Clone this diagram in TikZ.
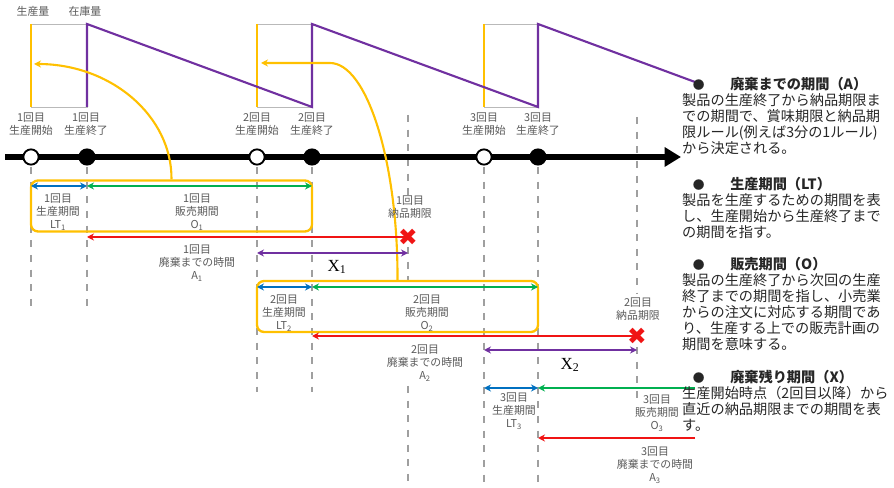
\documentclass[tikz,border=0pt]{standalone}
\usepackage{fontspec}
\setmainfont{Noto Sans CJK JP}
\newfontfamily\symfont{DejaVu Sans}
\newfontfamily\xfont{Liberation Serif}
\usetikzlibrary{arrows.meta}

\definecolor{ygold}{RGB}{255,192,0}
\definecolor{ppl}{RGB}{112,48,160}
\definecolor{bblue}{RGB}{0,112,192}
\definecolor{ggreen}{RGB}{0,176,80}
\definecolor{rred}{RGB}{240,20,20}
\definecolor{lblgray}{RGB}{90,90,90}

\begin{document}
\begin{tikzpicture}[
    x=0.03cm, y=-0.03cm,
    lbl/.style={align=center,text=lblgray,inner sep=0pt,font=\fontsize{9.3}{11}\selectfont},
    note/.style={align=left,anchor=north west,inner sep=0pt,text=black!85,font=\fontsize{12.1}{13.6}\selectfont},
    evstart/.style={circle,draw,line width=1.6pt,fill=white,minimum size=13pt,inner sep=0pt},
    evend/.style={evstart,fill=black},
    timeline/.style={line width=4.5pt,-{Triangle[length=14pt,width=16pt]}},
    guide/.style={draw=gray!75,line width=1.2pt,dash pattern=on 6pt off 6.5pt},
    cell/.style={draw=gray!55,line width=0.8pt},
    prod/.style={draw=ygold,line width=2pt},
    stock/.style={draw=ppl,line width=1.8pt},
    feed/.style={draw=ygold,line width=1.8pt,-{Stealth[length=6pt,width=6pt]}},
    sellbox/.style={draw=ygold,line width=2pt,rounded corners=6pt,minimum width=8.43cm,minimum height=1.53cm,inner sep=0pt},
    dur/.style={line width=1.8pt,{Stealth[length=6pt,width=6pt]}-{Stealth[length=6pt,width=6pt]}},
    loss/.style={draw=rred,line width=1.8pt,-{Stealth[length=6pt,width=6pt]}},
    dead/.style={text=rred,inner sep=0pt,font=\symfont\fontsize{20}{20}\selectfont},
    xlbl/.style={inner sep=0pt,font=\xfont\fontsize{14.5}{14.5}\selectfont}
]
\useasboundingbox (0,0) rectangle (894,488);

\foreach \a/\b in {31/87,257/312,484/538} {
    \draw[cell] (\a,24) rectangle (\b,107);
    \draw[prod] (\a,24) -- (\a,107);
}
\draw[stock] (87,107) -- (87,24) -- (312,107) -- (312,24) -- (538,107) -- (538,24) -- (695,82);
\node[lbl] (qprod) at (33,11) {生産量};
\node[lbl] (qstock) at (85,11) {在庫量};

\coordinate (d1) at (408,157);
\coordinate (d2) at (637,157);
\draw[guide] (d1 |- 0,115) -- (d1 |- 0,195);
\draw[guide] (d1 |- 0,247) -- (d1 |- 0,281);
\draw[guide] (d1 |- 0,386) -- (d1 |- 0,488);
\draw[guide] (d2 |- 0,117) -- (d2 |- 0,294);
\draw[guide] (d2 |- 0,347) -- (d2 |- 0,398);

\coordinate (t0) at (5,157);
\coordinate (t1) at (681,157);
\draw[timeline] (t0) -- (t1);

\node[evstart] (s1) at (31,157) {};
\node[evend] (e1) at (87,157) {};
\node[evstart] (s2) at (257,157) {};
\node[evend] (e2) at (312,157) {};
\node[evstart] (s3) at (484,157) {};
\node[evend] (e3) at (538,157) {};

\foreach \n/\b in {s1/308,e1/308,s2/392,e2/392,s3/488,e3/488}
    \draw[guide] (\n) ++(0,10) -- (\n |- 0,\b);

\node[lbl] (s1lbl) at (31,124) {1回目\\生産開始};
\node[lbl] (e1lbl) at (86,124) {1回目\\生産終了};
\node[lbl] (s2lbl) at (257,124) {2回目\\生産開始};
\node[lbl] (e2lbl) at (312,124) {2回目\\生産終了};
\node[lbl] (s3lbl) at (484,124) {3回目\\生産開始};
\node[lbl] (e3lbl) at (538,124) {3回目\\生産終了};

\node[sellbox] (box1) at (171.5,206) {};
\node[sellbox] (box2) at (397.5,306.5) {};
\draw[feed] (box1.north) .. controls (172,116) and (111,64) .. (34,64);
\draw[feed] (box2.north) .. controls (398,162) and (367,63) .. (330,63) -- (261,63);

\draw[dur,bblue] (s1 |- 0,186) -- (e1 |- 0,186);
\draw[dur,ggreen] (e1 |- 0,186) -- (e2 |- 0,186);
\node[lbl] (lt1) at (58,212) {1回目\\生産期間\\LT\textsubscript{1}};
\node[lbl] (o1) at (197,212) {1回目\\販売期間\\O\textsubscript{1}};
\coordinate (dl1) at (d1 |- 0,237);
\draw[loss] (dl1) -- (e1 |- dl1);
\draw[dur,ppl] (s2 |- 0,253) -- (d1 |- 0,253);
\node[lbl] (a1) at (197,263) {1回目\\廃棄までの時間\\A\textsubscript{1}};
\node[lbl] (lim1) at (410,207) {1回目\\納品期限};
\node[dead] (kill1) at (dl1) {✖};
\node[xlbl] (x1) at (337,267) {X\textsubscript{1}};

\draw[dur,bblue] (s2 |- 0,287) -- (e2 |- 0,287);
\draw[dur,ggreen] (e2 |- 0,287) -- (e3 |- 0,287);
\node[lbl] (lt2) at (284,313) {2回目\\生産期間\\LT\textsubscript{2}};
\node[lbl] (o2) at (427,313) {2回目\\販売期間\\O\textsubscript{2}};
\coordinate (dl2) at (d2 |- 0,336);
\draw[loss] (dl2) -- (e2 |- dl2);
\draw[dur,ppl] (s3 |- 0,350) -- (d2 |- 0,350);
\node[lbl] (a2) at (425,363) {2回目\\廃棄までの時間\\A\textsubscript{2}};
\node[lbl] (lim2) at (638,309) {2回目\\納品期限};
\node[dead] (kill2) at (dl2) {✖};
\node[xlbl] (x2) at (570,365) {X\textsubscript{2}};

\coordinate (o3end) at (695,388);
\coordinate (a3end) at (695,438);
\draw[dur,bblue] (s3 |- 0,388) -- (e3 |- 0,388);
\draw[dur,ggreen,{Stealth[length=6pt,width=6pt]}-] (e3 |- o3end) -- (o3end);
\draw[loss] (a3end) -- (e3 |- a3end);
\node[lbl] (lt3) at (514,411) {3回目\\生産期間\\LT\textsubscript{3}};
\node[lbl] (o3) at (657,413) {3回目\\販売期間\\O\textsubscript{3}};
\node[lbl] (a3) at (655,465) {3回目\\廃棄までの時間\\A\textsubscript{3}};

\node[note] (defA) at (682,77) {\hspace*{9pt}{\fontsize{10}{10}\selectfont●}\hspace{22pt}\textbf{廃棄までの期間（A）}\\
製品の生産終了から納品期限ま\\
での期間で、賞味期限と納品期\\
限ルール(例えば3分の1ルール)\\
から決定される。};
\node[note] (defLT) at (682,177) {\hspace*{9pt}{\fontsize{10}{10}\selectfont●}\hspace{22pt}\textbf{生産期間（LT）}\\
製品を生産するための期間を表\\
し、生産開始から生産終了まで\\
の期間を指す。};
\node[note] (defO) at (682,257) {\hspace*{9pt}{\fontsize{10}{10}\selectfont●}\hspace{22pt}\textbf{販売期間（O）}\\
製品の生産終了から次回の生産\\
終了までの期間を指し、小売業\\
からの注文に対応する期間であ\\
り、生産する上での販売計画の\\
期間を意味する。};
\node[note] (defX) at (682,370) {\hspace*{9pt}{\fontsize{10}{10}\selectfont●}\hspace{22pt}\textbf{廃棄残り期間（X）}\\
生産開始時点（2回目以降）から\\
直近の納品期限までの期間を表\\
す。};

\end{tikzpicture}
\end{document}
